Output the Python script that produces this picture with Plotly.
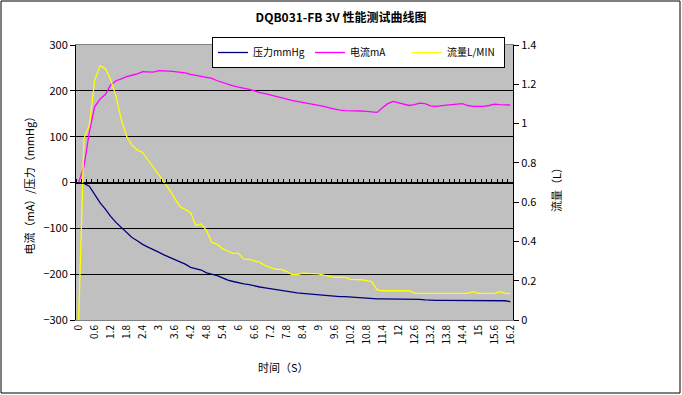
import plotly.graph_objects as go

# time categories (s)
time_s = [0, 0.2, 0.4, 0.6, 0.8, 1.0, 1.2, 1.4, 1.6, 1.8, 2.0, 2.2, 2.4, 2.6, 2.8, 3.0, 3.2, 3.4, 3.6, 3.8,
          4.0, 4.2, 4.4, 4.6, 4.8, 5.0, 5.2, 5.4, 5.6, 5.8, 6.0, 6.2, 6.4, 6.6, 6.8, 7.0, 7.2, 7.4, 7.6, 7.8,
          8.0, 8.2, 8.4, 8.6, 8.8, 9.0, 9.2, 9.4, 9.6, 9.8, 10.0, 10.2, 10.4, 10.6, 10.8, 11.0, 11.2, 11.4, 11.6, 11.8,
          12.0, 12.2, 12.4, 12.6, 12.8, 13.0, 13.2, 13.4, 13.6, 13.8, 14.0, 14.2, 14.4, 14.6, 14.8, 15.0, 15.2, 15.4, 15.6, 15.8,
          16.0, 16.2]

# pressure mmHg (left axis)
pressure = [0, -2, -8, -26, -44, -58, -74, -87, -98, -109, -120, -127, -135, -141, -146, -152, -158, -163, -167, -172,
            -178, -185, -188, -191, -197, -200, -203, -208, -213, -216, -219, -221, -223, -226, -228, -230, -232, -234, -236, -238,
            -239, -241, -242, -243, -245, -246, -247, -248, -248, -249, -249, -250, -251, -252, -253, -254, -254, -254, -254, -254,
            -254, -254, -254, -255, -255, -256, -257, -257, -257, -257, -257, -257, -257, -257, -257, -257, -257, -257, -257, -257,
            -258, -260]

# current mA (left axis)
current = [0, 35, 110, 165, 182, 192, 213, 222, 226, 231, 234, 237, 242, 241, 241, 244, 244, 243, 242, 241,
           239, 236, 234, 231, 229, 227, 222, 218, 214, 211, 208, 206, 203, 200, 196, 194, 191, 188, 185, 181,
           179, 177, 175, 172, 170, 168, 166, 163, 160, 158, 157, 157, 157, 156, 155, 154, 153, 163, 172, 177,
           174, 170, 168, 170, 173, 172, 167, 166, 168, 169, 170, 171, 172, 168, 166, 166, 166, 168, 171, 170,
           169, 169]

# flow L/MIN (right axis)
flow = [0, 0.925, 0.99, 1.22, 1.295, 1.28, 1.225, 1.14, 1.02, 0.935, 0.89, 0.865, 0.853, 0.815, 0.777, 0.738, 0.704, 0.665, 0.62, 0.578,
        0.562, 0.548, 0.48, 0.489, 0.455, 0.395, 0.385, 0.363, 0.35, 0.339, 0.339, 0.31, 0.309, 0.30, 0.293, 0.277, 0.266, 0.258, 0.258, 0.248,
        0.231, 0.231, 0.238, 0.238, 0.237, 0.235, 0.228, 0.222, 0.217, 0.217, 0.217, 0.207, 0.206, 0.205, 0.2, 0.195, 0.153, 0.149, 0.149, 0.149,
        0.149, 0.149, 0.149, 0.136, 0.136, 0.136, 0.136, 0.136, 0.136, 0.136, 0.136, 0.136, 0.136, 0.136, 0.144, 0.136, 0.136, 0.136, 0.136, 0.144,
        0.136, 0.136]

tick_vals = time_s[::3]
tick_text = [f"{t:g}" for t in tick_vals]

FONT = "Noto Sans CJK SC, DejaVu Sans, sans-serif"

fig = go.Figure()
fig.add_trace(go.Scatter(x=time_s, y=pressure, name="压力mmHg", mode="lines",
                         line=dict(color="#000080", width=1.3)))
fig.add_trace(go.Scatter(x=time_s, y=current, name="电流mA", mode="lines",
                         line=dict(color="#FF00FF", width=1.3)))
fig.add_trace(go.Scatter(x=time_s, y=flow, name="流量L/MIN", mode="lines", yaxis="y2",
                         line=dict(color="#FFFF00", width=1.3)))
# invisible helper trace so the zero-crossing category axis is drawn
fig.add_trace(go.Scatter(x=time_s, y=pressure, mode="lines", xaxis="x2", showlegend=False,
                         hoverinfo="skip", line=dict(width=0), opacity=0))

W, H = 682, 395
L, R, T, B = 76, 169, 45, 75
pw, ph = W - L - R, H - T - B

def px(x):
    return (x - L) / pw

def py(y):
    return (H - B - y) / ph

fig.update_layout(
    width=W, height=H,
    margin=dict(l=L, r=R, t=T, b=B),
    paper_bgcolor="white", plot_bgcolor="#C0C0C0",
    font=dict(family=FONT, size=11, color="black"),
    title=dict(text="<b>DQB031-FB 3V 性能测试曲线图</b>", x=0.5, xanchor="center",
               y=1 - 18 / H, yanchor="middle", font=dict(size=12, family=FONT)),
    showlegend=True,
    legend=dict(orientation="h", x=px(212), y=py(37), xanchor="left", yanchor="top",
                bgcolor="white", bordercolor="black", borderwidth=1,
                font=dict(size=10, family=FONT), tracegroupgap=0, itemwidth=30,
                entrywidth=52, entrywidthmode="pixels"),
    xaxis=dict(range=[-0.1, 16.3], tickmode="array", tickvals=tick_vals, ticktext=tick_text,
               tickangle=-90, ticks="", showgrid=False, zeroline=False,
               showline=True, linecolor="#808080", linewidth=1, mirror=True,
               tickfont=dict(size=10, family=FONT)),
    xaxis2=dict(range=[-0.1, 16.3], overlaying="x", anchor="free", position=0.5, side="top",
                tickmode="linear", tick0=0.1, dtick=0.2, ticks="outside", ticklen=4,
                tickcolor="black", showticklabels=False, showgrid=False, zeroline=False,
                showline=True, linecolor="black", linewidth=1),
    yaxis=dict(range=[-300, 300], dtick=100, showgrid=True, gridcolor="black", gridwidth=1,
               zeroline=False, ticks="outside", ticklen=5, tickcolor="black",
               showline=True, linecolor="black", linewidth=1),
    yaxis2=dict(range=[0, 1.4], dtick=0.2, overlaying="y", side="right", showgrid=False,
                zeroline=False, ticks="outside", ticklen=5, tickcolor="black",
                showline=True, linecolor="black", linewidth=1),
    annotations=[
        dict(text="时间（S）", xref="paper", yref="paper", x=px(283), y=py(367),
             xanchor="center", yanchor="middle", showarrow=False, font=dict(size=11)),
        dict(text="电流（mA）/压力（mmHg）", xref="paper", yref="paper", x=px(28), y=0.5,
             xanchor="center", yanchor="middle", textangle=-90, showarrow=False, font=dict(size=11)),
        dict(text="流量（L）", xref="paper", yref="paper", x=px(556), y=py(187),
             xanchor="center", yanchor="middle", textangle=-90, showarrow=False, font=dict(size=11)),
    ],
    shapes=[dict(type="rect", xref="paper", yref="paper", x0=px(1), x1=px(680), y0=py(393), y1=py(1),
                 line=dict(color="black", width=1), fillcolor="rgba(0,0,0,0)", layer="above")],
)

fig.write_html("out.html", config={"displayModeBar": False},
               post_script="document.body.style.margin='0';")
